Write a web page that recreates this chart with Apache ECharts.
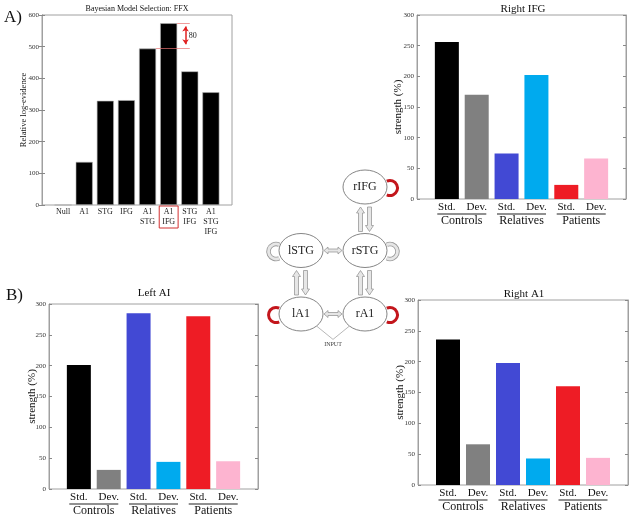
<!DOCTYPE html>
<html><head><meta charset="utf-8">
<script src="https://cdn.jsdelivr.net/npm/echarts/dist/echarts.min.js"></script>
<style>html,body{margin:0;padding:0;background:#fff}#c{width:633px;height:518px}</style>
</head><body><div id="c"></div>
<script>
// ---------- data ----------
const bmsModels = ['Null', 'A1', 'STG', 'IFG', 'A1\nSTG', 'A1\nIFG', 'STG\nIFG', 'A1\nSTG\nIFG'];
const bmsEvidence = [0, 136, 329, 331, 494, 574, 422, 356];
const evidenceTicks = [0, 100, 200, 300, 400, 500, 600];

const groups = ['Controls', 'Relatives', 'Patients'];
const conditions = ['Std.', 'Dev.'];
const strengthTicks = [0, 50, 100, 150, 200, 250, 300];
const rightIFG = [256, 170, 74, 202, 23, 66];
const leftAI = [201, 31, 285, 44, 280, 45];
const rightA1 = [236, 66, 198, 43, 160, 44];

const regions = ['rIFG', 'lSTG', 'rSTG', 'lA1', 'rA1'];
const regionCol = [1, 0, 1, 0, 1];
const regionRow = [0, 1, 1, 2, 2];
const selfLoops = ['sig', 'ns', 'ns', 'sig', 'sig'];
const connections = [['rIFG', 'rSTG'], ['lSTG', 'rSTG'], ['lSTG', 'lA1'], ['rSTG', 'rA1'], ['lA1', 'rA1']];
const inputs = ['lA1', 'rA1'];

// ---------- styles ----------
const F = '"Liberation Serif", "Times New Roman", serif';
const barColors = ['#000000', '#808080', '#4249d4', '#00aaee', '#ee1c25', '#fdb4d0'];
const AX = '#a0a0a0';

const chart = echarts.init(document.getElementById('c'));

const grids = [
  {left: 42, top: 15, width: 190, height: 190},
  {left: 417, top: 15, width: 209, height: 184},
  {left: 49, top: 304, width: 209, height: 185},
  {left: 418, top: 300, width: 210, height: 185},
  {left: 301, top: 187, width: 64, height: 127}
].map((g, i) => Object.assign(g, {show: i < 4, borderColor: AX, borderWidth: 1}));

const xAxes = [], yAxes = [], series = [];

function yPair(gi, ticks, name, nameGap, nameSize) {
  const base = {gridIndex: gi, type: 'value', min: ticks[0], max: ticks[ticks.length - 1],
    interval: ticks[1] - ticks[0], splitLine: {show: false},
    axisLine: {show: true, lineStyle: {color: AX}},
    axisTick: {show: true, inside: true, length: 3, lineStyle: {color: '#888'}}};
  const li = yAxes.length;
  yAxes.push(Object.assign({}, base, {position: 'left', name, nameLocation: 'middle', nameGap,
    nameMoveOverlap: false,
    nameTextStyle: {fontSize: nameSize, fontFamily: F, color: '#111'},
    axisLabel: {fontSize: 7, fontFamily: F, color: '#333', margin: 3}}));
  yAxes.push(Object.assign({}, base, {position: 'right', axisLabel: {show: false}}));
  return li;
}

// ---------- panel A ----------
const best = bmsEvidence.indexOf(Math.max(...bmsEvidence));
const bestVal = bmsEvidence[best];
const secondVal = Math.max(...bmsEvidence.filter((v, i) => i !== best));
const second = bmsEvidence.indexOf(secondVal);
const baseX = {gridIndex: 0, type: 'value', position: 'bottom', min: 0, max: bmsModels.length + 1, interval: 1,
  axisLine: {show: false}, axisTick: {show: false}, splitLine: {show: false}};
xAxes.push(Object.assign({}, baseX, {axisLabel: {margin: 2, fontSize: 8, lineHeight: 10, fontFamily: F, color: '#222',
  formatter: v => (v >= 1 && v <= bmsModels.length && v - 1 !== best) ? bmsModels[v - 1] : ''}}));
xAxes.push(Object.assign({}, baseX, {axisLabel: {margin: 1, fontSize: 8, lineHeight: 10, fontFamily: F, color: '#222',
  customValues: [best + 1],
  borderColor: '#d23030', borderWidth: 1, padding: [1, 3, 1, 3],
  formatter: v => (Math.round(v) - 1 === best) ? bmsModels[best] : ''}}));
const yA = yPair(0, evidenceTicks, 'Relative log-evidence', 14, 8.5);
series.push({
  type: 'bar', xAxisIndex: 0, yAxisIndex: yA, barWidth: 17,
  data: bmsEvidence.map((v, i) => [i + 1, v]),
  itemStyle: {color: '#000', borderColor: '#b0b0b0', borderWidth: 0.6},
  markLine: {silent: true, symbol: 'none', label: {show: false},
    lineStyle: {color: '#e87070', width: 0.7, type: 'solid'},
    data: [
      [{coord: [best + 1.4, bestVal]}, {coord: [best + 2, bestVal]}],
      [{coord: [second + 1.4, secondVal]}, {coord: [best + 2, secondVal]}],
      [{coord: [best + 1.8, bestVal - 10], symbol: 'arrow', symbolSize: 5, lineStyle: {color: '#e02020', width: 1.5}},
       {coord: [best + 1.8, secondVal + 14], symbol: 'arrow', symbolSize: 5}]
    ]},
  markPoint: {silent: true, symbol: 'circle', symbolSize: 0,
    data: [{coord: [best + 1.95, (bestVal + secondVal) / 2], value: bestVal - secondVal}],
    label: {show: true, position: 'right', distance: 0, formatter: '{c}', fontSize: 8, fontFamily: F, color: '#222'}}
});

// ---------- grouped panels ----------
function groupPanel(gi, values, nameGap) {
  const n = values.length;
  const xi = xAxes.length;
  xAxes.push({gridIndex: gi, type: 'value', min: 0, max: n + 1, interval: 0.5,
    axisLine: {show: false}, axisTick: {show: false}, splitLine: {show: false},
    axisLabel: {margin: 3, color: '#111', fontFamily: F,
      formatter: v => {
        const k = (v - 1.5) / 2;
        if (Number.isInteger(k) && k >= 0 && k < groups.length)
          return conditions.map(c => '{c|' + c + '}').join('') + '\n{u|}\n{g|' + groups[k] + '}';
        return '';
      },
      rich: {
        c: {width: 30, align: 'center', fontSize: 11, lineHeight: 11, fontFamily: F, color: '#111'},
        u: {width: 49, height: 1, lineHeight: 2, backgroundColor: '#222'},
        g: {fontSize: 12, lineHeight: 12, fontFamily: F, color: '#111'}
      }}});
  const yi = yPair(gi, strengthTicks, 'strength (%)', nameGap, 11);
  series.push({type: 'bar', xAxisIndex: xi, yAxisIndex: yi, barWidth: 24,
    data: values.map((v, i) => ({value: [i + 1, v], itemStyle: {color: barColors[i]}}))});
}
groupPanel(1, rightIFG, 13);
groupPanel(2, leftAI, 11);
groupPanel(3, rightA1, 12);

// ---------- diagram ----------
const dx = xAxes.length;
xAxes.push({gridIndex: 4, type: 'value', min: 0, max: 1, show: false});
const dy = yAxes.length;
yAxes.push({gridIndex: 4, type: 'value', min: 0, max: 2, inverse: true, show: false});
const RX = 22, RY = 17;
const idx = name => regions.indexOf(name);

function arrowPoly(x1, y1, x2, y2, sw, hw, hl, dbl) {
  const L = Math.hypot(x2 - x1, y2 - y1), ux = (x2 - x1) / L, uy = (y2 - y1) / L, nx = -uy, ny = ux;
  const P = (bx, by, s) => [bx + nx * s, by + ny * s];
  const b2x = x2 - ux * hl, b2y = y2 - uy * hl;
  if (!dbl) return [P(x1, y1, sw), P(b2x, b2y, sw), P(b2x, b2y, hw), [x2, y2], P(b2x, b2y, -hw), P(b2x, b2y, -sw), P(x1, y1, -sw)];
  const b1x = x1 + ux * hl, b1y = y1 + uy * hl;
  return [[x1, y1], P(b1x, b1y, hw), P(b1x, b1y, sw), P(b2x, b2y, sw), P(b2x, b2y, hw), [x2, y2],
          P(b2x, b2y, -hw), P(b2x, b2y, -sw), P(b1x, b1y, -sw), P(b1x, b1y, -hw)];
}
const arrowStyle = {fill: '#e6e6e6', stroke: '#8c8c8c', lineWidth: 0.7};

series.push({
  type: 'custom', xAxisIndex: dx, yAxisIndex: dy, clip: false, silent: true, z: 2,
  data: connections.map(([a, b]) => [regionCol[idx(a)], regionRow[idx(a)], regionCol[idx(b)], regionRow[idx(b)]]),
  encode: {x: [0, 2], y: [1, 3]},
  renderItem: (params, api) => {
    const p1 = api.coord([api.value(0), api.value(1)]), p2 = api.coord([api.value(2), api.value(3)]);
    const ch = [];
    if (Math.abs(p1[0] - p2[0]) < 1) {
      const x = p1[0], t = Math.min(p1[1], p2[1]) + RY + 3, b = Math.max(p1[1], p2[1]) - RY - 2;
      ch.push({type: 'polygon', shape: {points: arrowPoly(x - 4.5, b, x - 4.5, t, 2, 4, 6, false)}, style: arrowStyle});
      ch.push({type: 'polygon', shape: {points: arrowPoly(x + 4.5, t, x + 4.5, b, 2, 4, 6, false)}, style: arrowStyle});
    } else {
      const y = p1[1], l = Math.min(p1[0], p2[0]) + RX + 1, r = Math.max(p1[0], p2[0]) - RX - 1;
      ch.push({type: 'polygon', shape: {points: arrowPoly(l, y, r, y, 1.5, 3.5, 4, true)}, style: arrowStyle});
    }
    return {type: 'group', children: ch};
  }
});

series.push({
  type: 'custom', xAxisIndex: dx, yAxisIndex: dy, clip: false, silent: true, z: 2,
  data: [[regionCol[idx(inputs[0])], regionRow[idx(inputs[0])], regionCol[idx(inputs[1])], regionRow[idx(inputs[1])]]],
  encode: {x: [0, 2], y: [1, 3]},
  renderItem: (params, api) => {
    const p1 = api.coord([api.value(0), api.value(1)]), p2 = api.coord([api.value(2), api.value(3)]);
    const v = api.coord([(api.value(0) + api.value(2)) / 2, api.value(1) + 0.4]);
    const a = Math.PI / 4;
    const s1 = [p1[0] + RX * Math.cos(a), p1[1] + RY * Math.sin(a)];
    const s2 = [p2[0] - RX * Math.cos(a), p2[1] + RY * Math.sin(a)];
    return {type: 'group', children: [
      {type: 'polyline', shape: {points: [s1, v, s2]}, style: {stroke: '#888', lineWidth: 0.6, fill: 'none'}},
      {type: 'text', style: {text: 'INPUT', x: v[0], y: v[1] + 2, align: 'center', verticalAlign: 'top',
        fontSize: 6, fontFamily: F, fill: '#444'}}
    ]};
  }
});

series.push({
  type: 'custom', xAxisIndex: dx, yAxisIndex: dy, clip: false, silent: true, z: 3,
  data: regions.map((r, i) => [regionCol[i], regionRow[i]]),
  renderItem: (params, api) => {
    const i = params.dataIndex;
    const c = api.coord([api.value(0), api.value(1)]);
    const cx = c[0], cy = c[1];
    const side = api.value(0) < 0.5 ? -1 : 1;
    const lx = cx + side * (RX + 3), ly = cy + 1;
    const a0 = side < 0 ? 0.36 * Math.PI : -0.64 * Math.PI, a1 = side < 0 ? 1.64 * Math.PI : 0.64 * Math.PI;
    const arc = (w, col) => ({type: 'arc', shape: {cx: lx, cy: ly, r: 7.5, startAngle: a0, endAngle: a1, clockwise: true},
      style: {stroke: col, lineWidth: w, fill: 'none'}});
    const ch = selfLoops[i] === 'sig' ? [arc(3, '#c3161c')] : [arc(4.5, '#9a9a9a'), arc(2.8, '#e6e6e6')];
    ch.push({type: 'ellipse', shape: {cx, cy, rx: RX, ry: RY}, style: {fill: '#fff', stroke: '#666', lineWidth: 0.8}});
    ch.push({type: 'text', style: {text: regions[i], x: cx, y: cy, align: 'center', verticalAlign: 'middle',
      fontSize: 12, fontFamily: F, fill: '#222'}});
    return {type: 'group', children: ch};
  }
});

// ---------- texts ----------
const txt = (t, x, y, size, align) => ({type: 'text', x, y,
  style: {text: t, fontSize: size, fontFamily: F, fill: '#111', align: align || 'center', verticalAlign: 'middle'}});

chart.setOption({
  animation: false,
  textStyle: {fontFamily: F},
  grid: grids,
  xAxis: xAxes,
  yAxis: yAxes,
  series,
  graphic: [
    txt('A)', 4, 18, 17, 'left'),
    txt('B)', 6, 296, 17, 'left'),
    txt('Bayesian Model Selection: FFX', 137, 8.5, 8),
    txt('Right IFG', 523, 9, 11),
    txt('Left AI', 154, 293.5, 11),
    txt('Right A1', 524, 294, 11)
  ]
});
</script></body></html>
